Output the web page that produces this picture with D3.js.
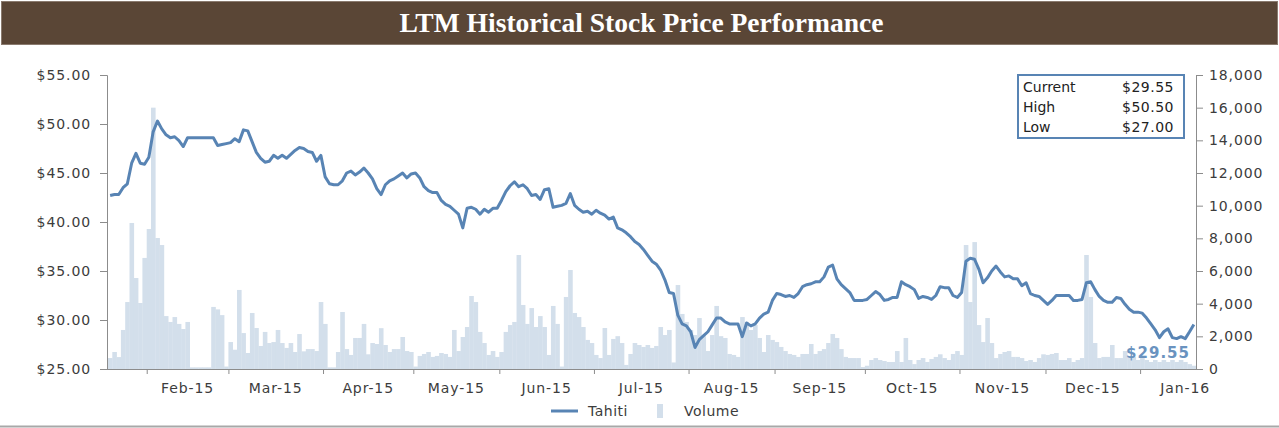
<!DOCTYPE html>
<html>
<head>
<meta charset="utf-8">
<script src="https://cdnjs.cloudflare.com/ajax/libs/d3/7.8.5/d3.min.js"></script>
<style>
  body { margin: 0; background: #fff; }
  svg { display: block; }
</style>
</head>
<body>
<div id="chart"></div>
<script>
// closing price per trading day (Jan-15 .. Jan-16)
var price = [
  42.7, 42.8, 42.8, 43.5, 43.9, 46.0, 47.0, 46.0, 45.9, 46.6,
  49.2, 50.3, 49.5, 48.9, 48.6, 48.7, 48.3, 47.7, 48.6, 48.6,
  48.6, 48.6, 48.6, 48.6, 48.6, 47.8, 47.9, 48.0, 48.1, 48.5,
  48.2, 49.4, 49.3, 48.2, 47.1, 46.5, 46.1, 46.2, 46.8, 46.5,
  46.8, 46.5, 46.9, 47.3, 47.6, 47.5, 47.2, 47.1, 46.2, 46.8,
  44.6, 43.9, 43.8, 43.8, 44.2, 45.0, 45.2, 44.8, 45.1, 45.5,
  45.0, 44.4, 43.4, 42.8, 43.8, 44.2, 44.4, 44.7, 45.0, 44.5,
  44.9, 45.0, 44.5, 43.6, 43.2, 43.0, 43.0, 42.2, 41.8, 41.6,
  41.2, 40.8, 39.4, 41.4, 41.5, 41.3, 40.8, 41.3, 41.0, 41.4,
  41.4, 42.2, 43.1, 43.7, 44.1, 43.6, 43.8, 43.4, 42.7, 42.8,
  42.3, 43.3, 43.4, 41.5, 41.6, 41.7, 41.9, 42.9, 41.7, 41.3,
  41.0, 41.1, 40.8, 41.2, 40.9, 40.7, 40.3, 40.5, 39.4, 39.2,
  38.9, 38.5, 38.0, 37.7, 37.2, 36.6, 36.0, 35.7, 35.1, 34.1,
  32.8, 32.7, 30.5, 29.6, 29.4, 28.8, 27.2, 28.0, 28.4, 28.8,
  29.5, 30.2, 30.2, 29.8, 29.6, 29.6, 29.6, 28.3, 29.7, 29.4,
  29.6, 30.2, 30.6, 30.8, 32.0, 32.7, 32.6, 32.4, 32.5, 32.3,
  32.7, 33.4, 33.6, 33.7, 33.9, 33.9, 34.4, 35.4, 35.6, 34.2,
  33.6, 33.2, 32.8, 32.0, 32.0, 32.0, 32.1, 32.5, 32.9, 32.6,
  32.0, 32.1, 32.3, 32.3, 33.9, 33.6, 33.4, 33.1, 32.2, 32.4,
  32.3, 32.1, 32.5, 33.4, 33.3, 33.3, 32.5, 32.3, 32.8, 36.0,
  36.3, 36.2, 35.2, 33.8, 34.3, 35.0, 35.5, 34.9, 34.4, 34.5,
  34.2, 34.2, 33.5, 33.8, 32.7, 32.5, 32.4, 32.0, 31.6, 32.0,
  32.5, 32.5, 32.5, 32.5, 32.0, 32.0, 32.1, 33.8, 33.9, 33.1,
  32.4, 32.0, 31.8, 31.8, 32.3, 32.2, 31.6, 31.1, 30.8, 30.8,
  30.7, 30.2, 29.6, 29.0, 28.2, 28.8, 29.1, 28.2, 28.1, 28.3,
  28.1, 28.8, 29.55
];

// daily volume, same trading days
var volume = [
  670, 1040, 730, 2390, 4100, 8940, 5570, 4040, 6800, 8570,
  16000, 8020, 7590, 3240, 2880, 3180, 2760, 2450, 2880, 100,
  100, 100, 100, 100, 3800, 3650, 3300, 150, 1650, 1180,
  4840, 2200, 980, 3430, 2510, 1410, 2270, 1590, 1650, 2390,
  1590, 1290, 1590, 1040, 2140, 1080, 1220, 1220, 1100, 4100,
  2760, 100, 100, 1040, 3490, 1220, 860, 1900, 1900, 2760,
  900, 1590, 1530, 2500, 1470, 1040, 1220, 1220, 1960, 1100,
  1040, 150, 800, 920, 1040, 740, 800, 980, 920, 740,
  2390, 1100, 1960, 2570, 4470, 4100, 2270, 1590, 860, 1100,
  740, 1040, 2270, 2690, 2880, 6980, 3920, 2760, 3730, 2570,
  3240, 2570, 860, 3860, 2760, 150, 4410, 6060, 3430, 3180,
  2570, 1780, 1590, 860, 670, 2510, 860, 1840, 2010, 1590,
  250, 920, 1590, 1470, 1350, 1470, 1290, 1410, 2570, 2080,
  2390, 400, 5140, 3370, 2880, 2390, 2080, 3120, 2010, 1100,
  2080, 3860, 2010, 1900, 920, 860, 740, 3180, 2880, 2390,
  2690, 1900, 1040, 2080, 1780, 1650, 1350, 1100, 920, 860,
  740, 920, 920, 1530, 920, 1100, 1220, 1590, 2140, 1900,
  1220, 740, 670, 670, 670, 120, 200, 550, 670, 550,
  490, 430, 430, 1100, 430, 1900, 550, 300, 550, 670,
  430, 610, 740, 900, 670, 550, 920, 1100, 860, 7590,
  4100, 7770, 2690, 1650, 3120, 1590, 670, 920, 1040, 1100,
  740, 740, 670, 490, 550, 430, 670, 900, 860, 920,
  980, 550, 550, 670, 430, 550, 670, 6980, 4410, 1590,
  670, 740, 740, 1470, 670, 670, 1100, 670, 740, 550,
  670, 550, 430, 550, 430, 550, 430, 550, 430, 550,
  430, 300, 200
];

// first trading day index of each month, and the month labels
var monthStart = [9, 28, 50, 71, 91, 113, 135, 155, 176, 198, 218, 240];
var monthLabels = ["Feb-15", "Mar-15", "Apr-15", "May-15", "Jun-15", "Jul-15",
                   "Aug-15", "Sep-15", "Oct-15", "Nov-15", "Dec-15", "Jan-16"];

var priceTicks = [25, 30, 35, 40, 45, 50, 55];
var volumeTicks = [0, 2000, 4000, 6000, 8000, 10000, 12000, 14000, 16000, 18000];

var statLabels = ["Current", "High", "Low"];
var statValues = [29.55, 50.50, 27.00];

var title = "LTM Historical Stock Price Performance";
var seriesName = "Tahiti";

var lineColor = "#5884b4",
    barColor = "#d3dfeb",
    axisColor = "#8c8c8c",
    textColor = "#3c3c3c",
    font = "'DejaVu Sans', Verdana, sans-serif";

var W = 1279, H = 428;
var svg = d3.select("#chart").append("svg").attr("width", W).attr("height", H);

// title bar
svg.append("rect")
    .attr("x", 1.5).attr("y", 1.5).attr("width", W - 3).attr("height", 43)
    .attr("fill", "#5a4636").attr("stroke", "#8a7a6e").attr("stroke-width", 1);
svg.append("text")
    .attr("x", W / 2 + 2).attr("y", 32)
    .attr("text-anchor", "middle")
    .attr("fill", "#fff")
    .attr("font-family", "'Liberation Serif', 'DejaVu Serif', serif")
    .attr("font-weight", "bold")
    .attr("font-size", 27)
    .attr("textLength", 484).attr("lengthAdjust", "spacingAndGlyphs")
    .text(title);

var pLeft = 108, pRight = 1196, pTop = 75, pBottom = 369;

var x = d3.scaleLinear().domain([0, price.length]).range([pLeft, pRight]);
var y = d3.scaleLinear().domain([25, 55]).range([pBottom, pTop]);
var yv = d3.scaleLinear().domain([0, 18000]).range([pBottom, pTop]);

// volume bars
svg.append("g").selectAll("rect").data(volume).enter().append("rect")
    .attr("x", function(d, i) { return x(i); })
    .attr("width", function(d, i) { return x(i + 1) - x(i) + 0.3; })
    .attr("y", function(d) { return yv(d); })
    .attr("height", function(d) { return pBottom - yv(d); })
    .attr("fill", barColor);

// price line
var line = d3.line()
    .x(function(d, i) { return x(i + 0.5); })
    .y(function(d) { return y(d); });

svg.append("path").datum(price)
    .attr("d", line)
    .attr("fill", "none")
    .attr("stroke", lineColor)
    .attr("stroke-width", 3)
    .attr("stroke-linejoin", "round");

// axes
function styleAxis(g) {
  g.select(".domain").attr("stroke", axisColor);
  g.selectAll(".tick line").attr("stroke", axisColor);
  g.selectAll(".tick text").attr("fill", textColor).attr("font-size", 14)
      .attr("letter-spacing", 0.9).attr("font-family", font);
}

var yAxis = d3.axisLeft(y).tickValues(priceTicks).tickSize(7).tickPadding(9)
    .tickFormat(function(d) { return "$" + d3.format(".2f")(d); });
svg.append("g").attr("transform", "translate(107,0)").call(yAxis).call(styleAxis);

var vAxis = d3.axisRight(yv).tickValues(volumeTicks).tickSize(7).tickPadding(6)
    .tickFormat(d3.format(","));
svg.append("g").attr("transform", "translate(1196,0)").call(vAxis).call(styleAxis);

var xAxis = d3.axisBottom(x).tickValues(monthStart).tickSize(5).tickFormat("");
var xg = svg.append("g").attr("transform", "translate(0," + pBottom + ")").call(xAxis).call(styleAxis);
xg.select(".domain").attr("d", "M107,0.5H1196");

// month labels centred in each month
svg.append("g").selectAll("text").data(monthLabels).enter().append("text")
    .attr("x", function(d, i) {
      var a = monthStart[i], b = i < monthStart.length - 1 ? monthStart[i + 1] : a + 21;
      return x((a + b) / 2);
    })
    .attr("y", 393)
    .attr("text-anchor", "middle")
    .attr("fill", textColor)
    .attr("font-family", font).attr("font-size", 14).attr("letter-spacing", 0.9)
    .text(function(d) { return d; });

// last price label
svg.append("text")
    .attr("x", 1190).attr("y", 358)
    .attr("text-anchor", "end")
    .attr("fill", "#6a93bf")
    .attr("font-family", font).attr("font-size", 15).attr("letter-spacing", 1)
    .attr("font-weight", "bold")
    .text("$" + d3.format(".2f")(price[price.length - 1]));

// current / high / low box
var box = svg.append("g").attr("transform", "translate(1018,75)");
box.append("rect").attr("width", 166).attr("height", 63)
    .attr("fill", "#fff").attr("stroke", lineColor).attr("stroke-width", 2);
box.selectAll(".lab").data(statLabels).enter().append("text")
    .attr("x", 5).attr("y", function(d, i) { return 17 + i * 20; })
    .attr("fill", "#222").attr("font-family", font).attr("font-size", 14)
    .text(function(d) { return d; });
box.selectAll(".val").data(statValues).enter().append("text")
    .attr("x", 156).attr("y", function(d, i) { return 17 + i * 20; })
    .attr("text-anchor", "end")
    .attr("fill", "#222").attr("font-family", font).attr("font-size", 14).attr("letter-spacing", 0.5)
    .text(function(d) { return "$" + d3.format(".2f")(d); });

// legend
var lg = svg.append("g").attr("transform", "translate(551,411)");
lg.append("line").attr("x1", 0).attr("x2", 27).attr("y1", 0).attr("y2", 0)
    .attr("stroke", lineColor).attr("stroke-width", 3);
lg.append("text").attr("x", 37).attr("y", 5)
    .attr("fill", textColor).attr("font-family", font).attr("font-size", 14).attr("letter-spacing", 0.5)
    .text(seriesName);
lg.append("rect").attr("x", 106).attr("y", -7).attr("width", 6).attr("height", 14).attr("fill", barColor);
lg.append("text").attr("x", 133).attr("y", 5)
    .attr("fill", textColor).attr("font-family", font).attr("font-size", 14).attr("letter-spacing", 0.5)
    .text("Volume");

// bottom rule
svg.append("line").attr("x1", 0).attr("x2", W).attr("y1", 426.5).attr("y2", 426.5)
    .attr("stroke", "#a8a8a8").attr("stroke-width", 2);
</script>
</body>
</html>
